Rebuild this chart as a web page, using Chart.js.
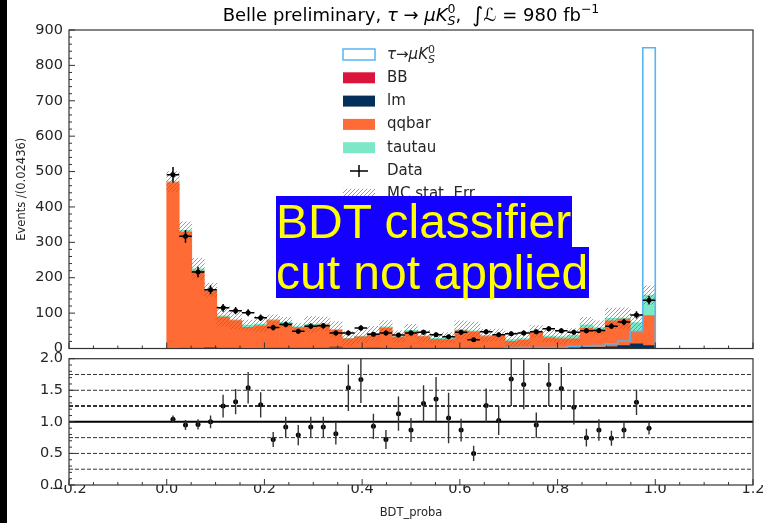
<!DOCTYPE html>
<html><head><meta charset="utf-8">
<script src="https://cdn.jsdelivr.net/npm/chart.js@4/dist/chart.umd.min.js"></script>
<style>
html,body{margin:0;padding:0;background:#fff;}
#wrap{position:relative;width:769px;height:523px;overflow:hidden;background:#fff;}
#top{position:absolute;left:0;top:0;width:769px;height:368px;}
#bot{position:absolute;left:0;top:344px;width:769px;height:179px;}
#strip{position:absolute;left:0;top:0;width:7px;height:523px;background:#000;}
.note{position:absolute;left:276px;background:#1400ff;color:#ffff00;font-family:"Liberation Sans",Arial,sans-serif;font-size:48px;line-height:51px;white-space:nowrap;padding:0 1px 0 0;}
</style></head><body>
<div id="wrap">
<canvas id="top" width="769" height="368"></canvas>
<canvas id="bot" width="769" height="179"></canvas>
<div id="strip"></div>
<div class="note" style="top:196px">BDT classifier</div>
<div class="note" style="top:247px">cut not applied</div>
</div>
<script>
// ---------------- data ----------------
const binEdges = [0,0.02564,0.05128,0.07692,0.10256,0.12821,0.15385,0.17949,0.20513,0.23077,
  0.25641,0.28205,0.30769,0.33333,0.35897,0.38462,0.41026,0.43590,0.46154,0.48718,
  0.51282,0.53846,0.56410,0.58974,0.61538,0.64103,0.66667,0.69231,0.71795,0.74359,
  0.76923,0.79487,0.82051,0.84615,0.87179,0.89744,0.92308,0.94872,0.97436,1.0];
const dataCounts = [491,317,216,166,115,107,101,87,59,68,49,63,64,44,44,58,40,44,38,44,
  46,39,33,46,25,47,39,42,44,47,56,50,46,50,51,63,75,95,136];
const dataErr = [22,18,15,13,11,10,10,9,8,8,7,8,8,7,7,8,6,7,6,7,
  7,6,6,7,5,7,6,6,7,7,7,7,7,7,7,8,9,10,12];
const bbCounts = [0,0,0,0,0,0,0,0,0,0,0,0,0,0,0,0,0,0,0,0,
  0,0,0,0,0,0,0,0,0,0,0,0,0,0,0,0,0,0,0];
const lmCounts = [0,1,1,3,1,1,0,0,1,1,1,1,1,4,1,1,2,1,0,1,
  1,1,1,1,1,1,1,1,2,2,2,2,2,3,3,5,8,13,8];
const qqbarCounts = [469,328,218,160,88,78,60,64,78,70,58,64,66,47,26,32,38,57,32,47,
  33,25,24,49,46,33,35,19,22,44,28,25,25,54,50,73,75,35,85];
const tautauCounts = [3,5,6,3,3,2,6,5,3,3,3,3,3,3,2,2,3,3,2,3,
  2,3,6,3,3,3,3,5,4,3,5,6,10,10,6,7,3,25,58];
const mcStatErr = [28,24,30,19,28,26,14,22,13,14,10,22,19,22,19,18,20,18,16,17,
  16,14,14,25,25,17,16,20,19,16,16,19,19,21,19,29,29,24,26];
const signalCounts = [0.5,0.5,0.5,0.5,0.5,0.5,0.5,0.5,0.5,0.5,0.5,0.5,0.5,0.5,0.5,0.5,0.5,0.5,0.5,0.5,
  0.5,0.5,0.5,0.5,0.5,0.5,0.5,2.5,2.5,2.5,2.5,2.5,6,7,8,13,21,48,850];
const ratioValues = [1.04,0.95,0.96,1.00,1.25,1.32,1.54,1.27,0.72,0.92,0.79,0.92,0.92,0.81,1.54,1.67,0.93,0.72,1.13,0.87,
  1.29,1.36,1.06,0.87,0.50,1.26,1.02,1.68,1.59,0.95,1.59,1.53,1.23,0.75,0.87,0.74,0.87,1.31,0.90];
const ratioErr = [0.06,0.08,0.08,0.10,0.18,0.20,0.25,0.20,0.12,0.16,0.16,0.16,0.16,0.17,0.37,0.37,0.20,0.15,0.27,0.19,
  0.29,0.35,0.40,0.18,0.12,0.27,0.23,0.43,0.39,0.20,0.34,0.34,0.27,0.14,0.17,0.12,0.13,0.20,0.10];
const refLevels = [0.25,0.5,0.75,1.25,1.5,1.75];
const legendLabels = ['BB','lm','qqbar','tautau','Data','MC stat. Err'];
const yTitleTop = 'Events /(0.02436)';
const xTitle = 'BDT_proba';

// ---------------- derived ----------------
const binCenters = binEdges.slice(0,-1).map((e,i)=>(e+binEdges[i+1])/2);
const pts = arr => binCenters.map((x,i)=>({x, y:arr[i]}));
const mcTotal = binCenters.map((_,i)=>bbCounts[i]+lmCounts[i]+qqbarCounts[i]+tautauCounts[i]);
const signalStep = [{x:binEdges[0],y:0}];
signalCounts.forEach((v,i)=>{ signalStep.push({x:binEdges[i],y:v},{x:binEdges[i+1],y:v}); });
signalStep.push({x:binEdges[binEdges.length-1],y:0});

const COL = {BB:'#dc143c', lm:'#03305a', qqbar:'#ff6b35', tautau:'#7de8c8', sig:'#5ab4f0'};
const FONT = '"DejaVu Sans", sans-serif';
const TXT = '#262626';

// hatch pattern
function makeHatch(){
  const s = 4;
  const c = document.createElement('canvas'); c.width = s; c.height = s;
  const g = c.getContext('2d');
  g.strokeStyle = 'rgba(110,110,110,0.8)'; g.lineWidth = 0.85;
  g.beginPath();
  g.moveTo(0,s); g.lineTo(s,0);
  g.moveTo(-s/2,s/2); g.lineTo(s/2,-s/2);
  g.moveTo(s/2,s*1.5); g.lineTo(s*1.5,s/2);
  g.stroke();
  return document.getElementById('top').getContext('2d').createPattern(c,'repeat');
}
const hatch = makeHatch();

// rich text helper
function segFont(s){ return (s.italic?'italic ':'') + s.size + 'px ' + FONT; }
function drawRich(ctx, segs, x, y, align, color){
  ctx.save(); ctx.textBaseline='alphabetic'; ctx.textAlign='left'; ctx.fillStyle=color||'#000';
  const widths = segs.map(s=>{
    if (s.stack) return Math.max(...s.stack.map(p=>{ctx.font=segFont(p);return ctx.measureText(p.t).width;}));
    ctx.font=segFont(s); return ctx.measureText(s.t).width;
  });
  const total = widths.reduce((a,b)=>a+b,0);
  let cx = align==='center' ? x-total/2 : x;
  segs.forEach((s,i)=>{
    if (s.stack) s.stack.forEach(p=>{ctx.font=segFont(p); ctx.fillText(p.t,cx,y+(p.dy||0));});
    else { ctx.font=segFont(s); ctx.fillText(s.t,cx,y+(s.dy||0)); }
    cx += widths[i];
  });
  ctx.restore();
}
const titleSegs = [
  {t:'Belle preliminary, ',size:18},{t:'τ',size:18,italic:true},{t:' → ',size:18},{t:'μK',size:18,italic:true},
  {stack:[{t:'0',size:12.5,dy:-8},{t:'S',size:12.5,italic:true,dy:4}]},
  {t:',  ',size:18},{t:'∫',size:21,dy:1},{t:'ℒ',size:18,italic:true},{t:' = 980 fb',size:18},{t:'−1',size:12.5,dy:-8}
];
const sigLegendSegs = [
  {t:'τ',size:15,italic:true},{t:'→',size:15},{t:'μK',size:15,italic:true},
  {stack:[{t:'0',size:11,dy:-6},{t:'S',size:11,italic:true,dy:4}]}
];

// frame + inner ticks
function framePlugin(yMajor, yMinor, xMajor, xMinor){
  return { id:'frame', afterDraw(chart){
    const {ctx, chartArea:ca, scales} = chart; const x = scales.x, y = scales.y;
    ctx.save(); ctx.strokeStyle='#333'; ctx.lineWidth=1.2;
    ctx.strokeRect(ca.left, ca.top, ca.right-ca.left, ca.bottom-ca.top);
    ctx.lineWidth=1;
    const tick = (scale, major, minor, fn) => {
      const n = Math.round((scale.max-scale.min)/minor);
      for (let k=0;k<=n;k++){
        const v = scale.min + k*minor;
        const isMaj = Math.abs(v/major - Math.round(v/major)) < 1e-6;
        fn(scale.getPixelForValue(v), isMaj ? 6 : 3);
      }
    };
    ctx.beginPath();
    tick(y, yMajor, yMinor, (p,l)=>{ ctx.moveTo(ca.left,p); ctx.lineTo(ca.left+l,p); });
    tick(x, xMajor, xMinor, (p,l)=>{ ctx.moveTo(p,ca.bottom); ctx.lineTo(p,ca.bottom-l); });
    ctx.stroke();
    ctx.restore();
  }};
}

const topExtras = { id:'topExtras', afterDraw(chart){
  const {ctx, chartArea:ca, scales:{x,y}} = chart;
  // data error bars
  ctx.save(); ctx.strokeStyle='#000'; ctx.lineWidth=1.5;
  ctx.beginPath();
  binCenters.forEach((c,i)=>{
    const px = x.getPixelForValue(c), py = y.getPixelForValue(dataCounts[i]);
    ctx.moveTo(x.getPixelForValue(binEdges[i]), py); ctx.lineTo(x.getPixelForValue(binEdges[i+1]), py);
    ctx.moveTo(px, y.getPixelForValue(dataCounts[i]-dataErr[i])); ctx.lineTo(px, y.getPixelForValue(dataCounts[i]+dataErr[i]));
  });
  ctx.stroke(); ctx.restore();
  // title
  drawRich(ctx, titleSegs, (ca.left+ca.right)/2, 21, 'center', '#000');
  // legend
  const bx = 343, bw = 32, bh = 11, tx = 387, y0 = 54.5, dy = 23.3;
  ctx.save();
  ctx.fillStyle='#fff'; ctx.strokeStyle=COL.sig; ctx.lineWidth=1.5;
  ctx.fillRect(bx, y0-bh/2, bw, bh); ctx.strokeRect(bx, y0-bh/2, bw, bh);
  drawRich(ctx, sigLegendSegs, tx, y0+4, 'left', TXT);
  const fills = [COL.BB, COL.lm, COL.qqbar, COL.tautau];
  ctx.font = '15px ' + FONT; ctx.textBaseline='middle'; ctx.textAlign='left';
  legendLabels.forEach((lab,i)=>{
    const yc = y0 + dy*(i+1);
    if (i<4){ ctx.fillStyle=fills[i]; ctx.fillRect(bx, yc-bh/2, bw, bh); }
    else if (i===4){
      ctx.strokeStyle='#000'; ctx.lineWidth=1.5; ctx.beginPath();
      ctx.moveTo(bx+7, yc); ctx.lineTo(bx+25, yc); ctx.moveTo(bx+16, yc-6); ctx.lineTo(bx+16, yc+6); ctx.stroke();
    } else { ctx.fillStyle=hatch; ctx.fillRect(bx, yc-bh/2, bw, bh); }
    ctx.fillStyle=TXT; ctx.fillText(lab, tx, yc);
  });
  ctx.restore();
}};

const barDs = (label, arr, color, order) => ({label, data:pts(arr), backgroundColor:color, stack:'mc', order});

new Chart(document.getElementById('top'), {
  type:'bar',
  data:{ datasets:[
    {type:'line', label:'Data', data:pts(dataCounts), showLine:false, pointRadius:2.5, pointHoverRadius:2.5,
     pointBackgroundColor:'#000', pointBorderWidth:0, yAxisID:'yl', order:0},
    {type:'line', label:'signal', data:signalStep, borderColor:COL.sig, borderWidth:1.6, pointRadius:0,
     fill:false, tension:0, borderJoinStyle:'miter', yAxisID:'yl', order:1},
    {label:'MC stat. Err', data:binCenters.map((x,i)=>({x, y:[mcTotal[i]-mcStatErr[i], mcTotal[i]+mcStatErr[i]]})),
     backgroundColor:hatch, stack:'err', order:2},
    barDs('BB', bbCounts, COL.BB, 3),
    barDs('lm', lmCounts, COL.lm, 4),
    barDs('qqbar', qqbarCounts, COL.qqbar, 5),
    barDs('tautau', tautauCounts, COL.tautau, 6)
  ]},
  options:{
    responsive:false, animation:false, events:[],
    layout:{padding:{top:30,left:0,right:16,bottom:19.5}},
    datasets:{bar:{grouped:false, barPercentage:1, categoryPercentage:1, borderWidth:0}},
    scales:{
      x:{type:'linear', min:-0.2, max:1.2, offset:false, display:false},
      y:{min:0, max:900, stacked:true,
         ticks:{stepSize:100, color:TXT, font:{family:FONT, size:14.5}, padding:6},
         grid:{display:false, drawTicks:false}, border:{display:false},
         title:{display:true, text:yTitleTop, color:TXT, font:{family:FONT, size:11.5}, padding:{top:15,bottom:0}},
         afterFit(s){ s.width = 69; }},
      yl:{min:0, max:900, display:false, stacked:false}
    },
    plugins:{legend:{display:false}, tooltip:{enabled:false}, title:{display:false}}
  },
  plugins:[framePlugin(100,20,0.2,0.05), topExtras]
});

const ratioExtras = { id:'ratioExtras', afterDatasetsDraw(chart){
  const {ctx, chartArea:ca, scales:{x,y}} = chart;
  ctx.save();
  ctx.beginPath(); ctx.rect(ca.left, ca.top, ca.right-ca.left, ca.bottom-ca.top); ctx.clip();
  ctx.strokeStyle='#333'; ctx.lineWidth=1.4; ctx.beginPath();
  binCenters.forEach((c,i)=>{
    const px = x.getPixelForValue(c);
    ctx.moveTo(px, y.getPixelForValue(ratioValues[i]-ratioErr[i]));
    ctx.lineTo(px, y.getPixelForValue(ratioValues[i]+ratioErr[i]));
  });
  ctx.stroke(); ctx.restore();
}};

const refDs = refLevels.map(v=>({type:'line', label:'ref '+v, data:[{x:-0.2,y:v},{x:1.2,y:v}],
  borderColor:'#333', borderWidth: v===1.25 ? 2 : 1, borderDash:[4,2], pointRadius:0, fill:false, order:2}));

new Chart(document.getElementById('bot'), {
  type:'scatter',
  data:{ datasets:[
    {type:'scatter', label:'Data/MC', data:binCenters.map((x,i)=>({x, y:ratioValues[i]})), pointRadius:2.5,
     pointHoverRadius:2.5, pointBackgroundColor:'#000', pointBorderWidth:0, order:0},
    {type:'line', label:'unity', data:[{x:-0.2,y:1},{x:1.2,y:1}], borderColor:'#000', borderWidth:2,
     pointRadius:0, fill:false, order:1},
    ...refDs
  ]},
  options:{
    responsive:false, animation:false, events:[],
    layout:{padding:{top:13,left:0,right:16,bottom:0}},
    scales:{
      x:{type:'linear', min:-0.2, max:1.2, offset:false,
         ticks:{stepSize:0.2, color:TXT, font:{family:FONT, size:14.5}, padding:-4, maxRotation:0,
                callback:v=>{ if (Math.abs(v)<1e-9) return '0.0'; return (v<0?'−':'') + Math.abs(v).toFixed(1); }},
         grid:{display:false, drawTicks:false}, border:{display:false},
         title:{display:true, text:xTitle, color:TXT, font:{family:FONT, size:11.5}, padding:{top:0,bottom:3}},
         afterFit(s){ s.height = 38; }},
      y:{min:0, max:2,
         ticks:{stepSize:0.5, color:TXT, font:{family:FONT, size:14.5}, padding:6, callback:v=>Number(v).toFixed(1)},
         grid:{display:false, drawTicks:false}, border:{display:false},
         afterFit(s){ s.width = 69; }}
    },
    plugins:{legend:{display:false}, tooltip:{enabled:false}}
  },
  plugins:[framePlugin(0.5,0.1,0.2,0.05), ratioExtras]
});
</script>
</body></html>
